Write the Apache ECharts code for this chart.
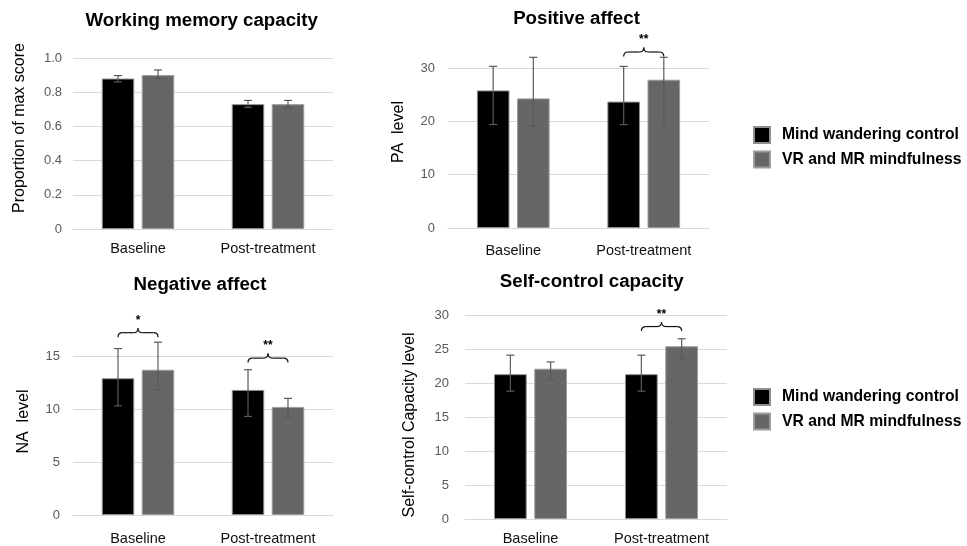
<!DOCTYPE html>
<html>
<head>
<meta charset="utf-8">
<script src="https://cdn.jsdelivr.net/npm/echarts@6/dist/echarts.min.js"></script>
<style>
html,body{margin:0;padding:0;background:#fff;}
#chart{width:967px;height:546px;}
</style>
</head>
<body>
<div id="chart"></div>
<script>
// ---------- data ----------
const categories = ['Baseline', 'Post-treatment'];
const seriesNames = ['Mind wandering control', 'VR and MR mindfulness'];

// Working memory capacity
const wmControl = [0.88, 0.73];
const wmVR = [0.90, 0.73];
const wmControlErr = [[0.86, 0.897], [0.711, 0.752]];
const wmVRErr = [[0.881, 0.93], [0.709, 0.752]];
const wmTicks = [0, 0.2, 0.4, 0.6, 0.8, 1.0];

// Positive affect
const paControl = [25.8, 23.7];
const paVR = [24.3, 27.8];
const paControlErr = [[19.4, 30.3], [19.4, 30.3]];
const paVRErr = [[19.1, 32.0], [19.1, 32.0]];
const paTicks = [0, 10, 20, 30];
const paBrackets = [[1, 33.0]];
const paBracketLabels = ['**'];

// Negative affect
const naControl = [12.9, 11.8];
const naVR = [13.7, 10.2];
const naControlErr = [[10.3, 15.7], [9.3, 13.7]];
const naVRErr = [[11.8, 16.3], [9.3, 11.0]];
const naTicks = [0, 5, 10, 15];
const naBrackets = [[0, 17.2], [1, 14.8]];
const naBracketLabels = ['*', '**'];

// Self-control capacity
const scControl = [21.3, 21.3];
const scVR = [22.1, 25.4];
const scControlErr = [[18.8, 24.1], [18.8, 24.1]];
const scVRErr = [[20.5, 23.1], [23.6, 26.5]];
const scTicks = [0, 5, 10, 15, 20, 25, 30];
const scBrackets = [[1, 28.3]];
const scBracketLabels = ['**'];

// ---------- chart ----------
const FONT = 'Liberation Sans, Arial, Helvetica, sans-serif';
const BAR_W = 0.25;
const BAR_GAP = 0.23;

function errRender(sign) {
  return function (params, api) {
    const cat = api.value(0), lo = api.value(1), hi = api.value(2);
    const b = api.coord([cat, lo]);
    const t = api.coord([cat, hi]);
    const band = api.size([1, 0])[0];
    const bw = band * BAR_W, gap = bw * BAR_GAP;
    const x = b[0] + sign * (bw + gap) / 2;
    const cap = 4;
    const st = { stroke: '#5a5a5a', lineWidth: 1.2 };
    return {
      type: 'group',
      children: [
        { type: 'line', shape: { x1: x, y1: t[1], x2: x, y2: b[1] }, style: st },
        { type: 'line', shape: { x1: x - cap, y1: t[1], x2: x + cap, y2: t[1] }, style: st },
        { type: 'line', shape: { x1: x - cap, y1: b[1], x2: x + cap, y2: b[1] }, style: st }
      ]
    };
  };
}

function bracketRender(labels) {
  return function (params, api) {
    const c = api.coord([api.value(0), api.value(1)]);
    const band = api.size([1, 0])[0];
    const bw = band * BAR_W, gap = bw * BAR_GAP;
    const half = (bw + gap) / 2;
    const xl = c[0] - half, xr = c[0] + half, xm = c[0], y = c[1];
    const r = 4.5;
    const st = { stroke: '#111', lineWidth: 1.2, fill: null };
    return {
      type: 'group',
      children: [
        { type: 'bezierCurve', shape: { x1: xl, y1: y + r, x2: xl + r, y2: y, cpx1: xl, cpy1: y }, style: st },
        { type: 'line', shape: { x1: xl + r, y1: y, x2: xm - r, y2: y }, style: st },
        { type: 'bezierCurve', shape: { x1: xm - r, y1: y, x2: xm, y2: y - r, cpx1: xm, cpy1: y }, style: st },
        { type: 'bezierCurve', shape: { x1: xm, y1: y - r, x2: xm + r, y2: y, cpx1: xm, cpy1: y }, style: st },
        { type: 'line', shape: { x1: xm + r, y1: y, x2: xr - r, y2: y }, style: st },
        { type: 'bezierCurve', shape: { x1: xr - r, y1: y, x2: xr, y2: y + r, cpx1: xr, cpy1: y }, style: st },
        { type: 'text', style: { text: labels[params.dataIndex], x: xm, y: y - 12, align: 'center', verticalAlign: 'middle', font: 'bold 12px ' + FONT, fill: '#000' } }
      ]
    };
  };
}

const panels = [
  { grid: { left: 73, top: 58, width: 260, height: 171 }, ctrl: wmControl, vr: wmVR, ctrlErr: wmControlErr, vrErr: wmVRErr, ticks: wmTicks,
    name: 'Proportion of max score', nameGap: 45, namePad: [0, 0, 0, 31], labelMargin: 11, catMargin: 12, fmt: v => v === 0 ? '0' : v.toFixed(1), brackets: [], labels: [] },
  { grid: { left: 448, top: 68, width: 261, height: 160 }, ctrl: paControl, vr: paVR, ctrlErr: paControlErr, vrErr: paVRErr, ticks: paTicks,
    name: 'PA  level', nameGap: 41, namePad: [0, 0, 0, 32], labelMargin: 13, catMargin: 15, fmt: v => String(v), brackets: paBrackets, labels: paBracketLabels },
  { grid: { left: 73, top: 356, width: 260, height: 159 }, ctrl: naControl, vr: naVR, ctrlErr: naControlErr, vrErr: naVRErr, ticks: naTicks,
    name: 'NA  level', nameGap: 41, namePad: [0, 0, 0, 28], labelMargin: 13, catMargin: 16, fmt: v => String(v), brackets: naBrackets, labels: naBracketLabels },
  { grid: { left: 465, top: 315, width: 262, height: 204 }, ctrl: scControl, vr: scVR, ctrlErr: scControlErr, vrErr: scVRErr, ticks: scTicks,
    name: 'Self-control Capacity level', nameGap: 47, namePad: [0, 16, 0, 0], labelMargin: 16, catMargin: 12, fmt: v => String(v), brackets: scBrackets, labels: scBracketLabels }
];

const grids = [], xAxes = [], yAxes = [], series = [];
panels.forEach((p, i) => {
  grids.push(p.grid);
  xAxes.push({
    type: 'category', gridIndex: i, data: categories,
    axisLine: { show: true, lineStyle: { color: '#d9d9d9', width: 1 } },
    axisTick: { show: false },
    axisLabel: { color: '#111', fontSize: 14.5, fontFamily: FONT, margin: p.catMargin }
  });
  const tks = p.ticks;
  yAxes.push({
    type: 'value', gridIndex: i, min: tks[0], max: tks[tks.length - 1], interval: tks[1] - tks[0],
    name: p.name, nameLocation: 'middle', nameGap: p.nameGap,
    nameTextStyle: { color: '#000', fontSize: 16, fontFamily: FONT, padding: p.namePad },
    axisLine: { show: false }, axisTick: { show: false },
    splitLine: { lineStyle: { color: '#d9d9d9', width: 1 } },
    axisLabel: { color: '#595959', fontSize: 13, fontFamily: FONT, margin: p.labelMargin, formatter: p.fmt }
  });
  series.push({
    type: 'bar', name: seriesNames[0], xAxisIndex: i, yAxisIndex: i, data: p.ctrl,
    barWidth: (BAR_W * 100) + '%', barGap: (BAR_GAP * 100) + '%',
    itemStyle: { color: '#000', borderColor: '#8f8f8f', borderWidth: 1 }, z: 2
  });
  series.push({
    type: 'bar', name: seriesNames[1], xAxisIndex: i, yAxisIndex: i, data: p.vr,
    barWidth: (BAR_W * 100) + '%', barGap: (BAR_GAP * 100) + '%',
    itemStyle: { color: '#666', borderColor: '#9c9c9c', borderWidth: 1 }, z: 2
  });
  series.push({
    type: 'custom', xAxisIndex: i, yAxisIndex: i, z: 5, silent: true,
    data: p.ctrlErr.map((e, k) => [k, e[0], e[1]]),
    encode: { x: 0, y: [1, 2] }, renderItem: errRender(-1)
  });
  series.push({
    type: 'custom', xAxisIndex: i, yAxisIndex: i, z: 5, silent: true,
    data: p.vrErr.map((e, k) => [k, e[0], e[1]]),
    encode: { x: 0, y: [1, 2] }, renderItem: errRender(1)
  });
  if (p.brackets.length) {
    series.push({
      type: 'custom', xAxisIndex: i, yAxisIndex: i, z: 5, silent: true,
      data: p.brackets, encode: { x: 0, y: 1 }, renderItem: bracketRender(p.labels)
    });
  }
});

const titleStyle = { color: '#000', fontSize: 18.7, fontWeight: 'bold', fontFamily: FONT };
const legendBase = {
  data: seriesNames, orient: 'vertical', left: 753, padding: 0,
  itemWidth: 16, itemHeight: 16, itemGap: 6.5, icon: 'rect', selectedMode: false,
  textStyle: { color: '#000', fontSize: 15.7, fontWeight: 'bold', fontFamily: FONT, padding: [0, 0, 0, 7] }
};

const option = {
  backgroundColor: '#fff',
  animation: false,
  title: [
    { text: 'Working memory capacity', left: 201.7, top: 11, textAlign: 'center', padding: 0, textStyle: titleStyle },
    { text: 'Positive affect', left: 576.5, top: 9, textAlign: 'center', padding: 0, textStyle: titleStyle },
    { text: 'Negative affect', left: 200, top: 275, textAlign: 'center', padding: 0, textStyle: titleStyle },
    { text: 'Self-control capacity', left: 591.7, top: 272, textAlign: 'center', padding: 0, textStyle: titleStyle }
  ],
  legend: [
    Object.assign({}, legendBase, { top: 126 }),
    Object.assign({}, legendBase, { top: 388 })
  ],
  grid: grids,
  xAxis: xAxes,
  yAxis: yAxes,
  series: series
};

const chart = echarts.init(document.getElementById('chart'), null, { renderer: 'canvas' });
chart.setOption(option);
</script>
</body>
</html>
